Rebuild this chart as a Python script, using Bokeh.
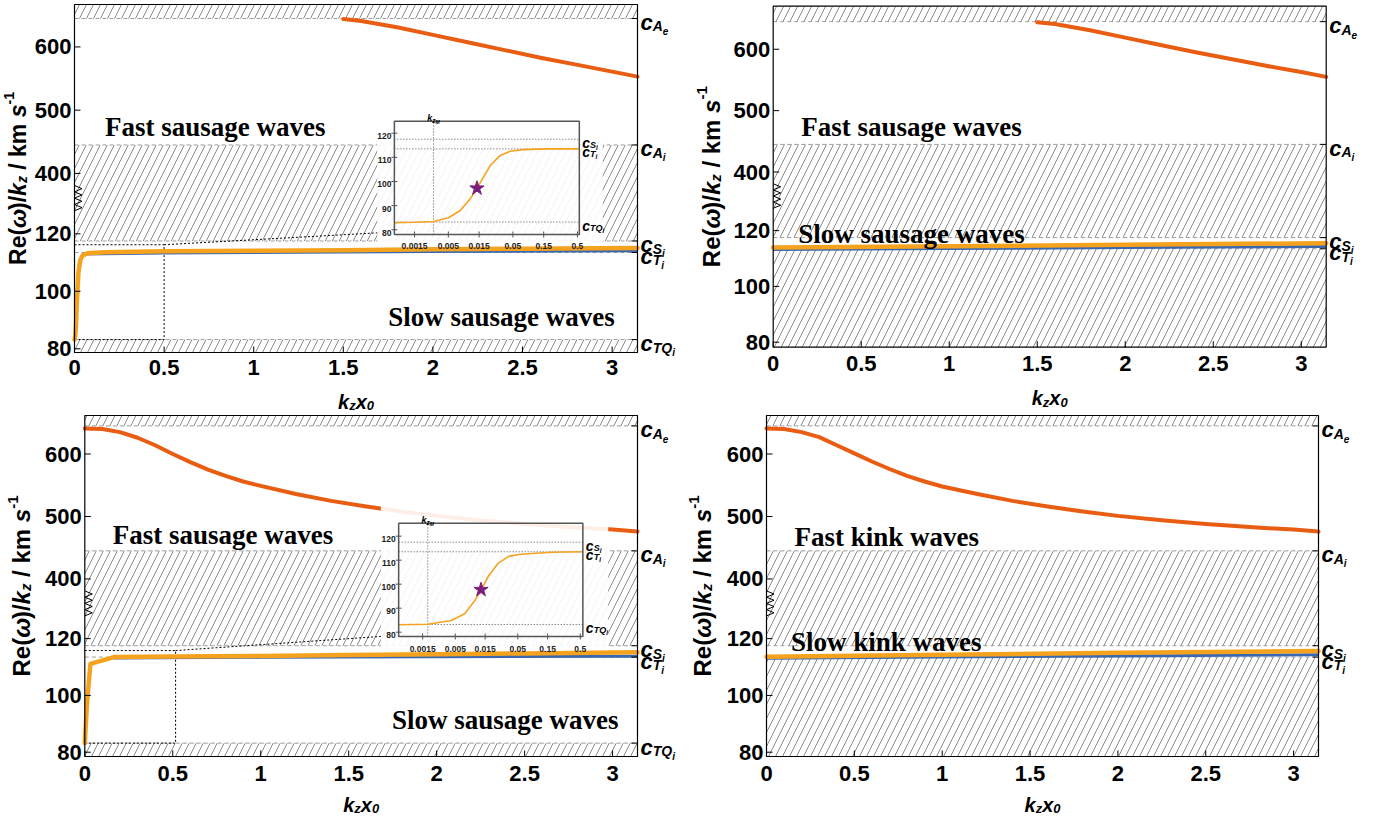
import math
import numpy as np
from bokeh.plotting import figure
from bokeh.models import Range1d, LogScale, Label
from bokeh.layouts import column, row
from bokeh.embed import file_html
from bokeh.resources import INLINE

PI = math.pi
SANS = "Liberation Sans"
SERIF = "Liberation Serif"

FAST_COLOR = "#E85D12"
SLOW_COLOR = "#F5A31F"
BLUE_COLOR = "#3A68B0"
HATCH_COLOR = "#8a8a8a"
DASH_COLOR = "#9c9c9c"
STAR_COLOR = "#7A1E7C"

# ---------------- data ----------------
# characteristic speeds (km/s)
C_AE, C_AI, C_SI, C_TI, C_TQI = 645.0, 445.0, 117.5, 113.5, 83.2

x_ticks = [0, 0.5, 1, 1.5, 2, 2.5, 3]
x_tick_labels = ["0", "0.5", "1", "1.5", "2", "2.5", "3"]
y_ticks = [80, 100, 120, 400, 500, 600]
y_tick_labels = ["80", "100", "120", "400", "500", "600"]

# panel (a): fast / slow sausage waves
a_fast_k = [1.50, 1.60, 1.80, 2.00, 2.20, 2.40, 2.60, 2.80, 3.00, PI]
a_fast_v = [644, 641, 631, 619, 607, 595, 583, 572, 561, 553]
a_slow_k = [0, 0.0015, 0.005, 0.008, 0.011, 0.014, 0.018, 0.022, 0.032, 0.045, 0.073, 0.17, 0.5, 1.0, 1.5, 2.0, 2.5, PI]
a_slow_v = [83.2, 83.3, 85.0, 88.0, 92.8, 97.2, 101.8, 106.6, 110.8, 112.5, 113.2, 113.6, 113.9, 114.1, 114.3, 114.6, 114.8, 115.1]
a_blue_k = [0.05, 0.5, 1.0, 2.0, PI]
a_blue_v = [113.0, 113.3, 113.5, 113.8, 114.1]
# inset of (a)
ia_k = [0.00073, 0.0015, 0.00295, 0.00503, 0.00764, 0.0109, 0.0139, 0.0175, 0.0223, 0.0318, 0.0454, 0.0729, 0.168, 0.519]
ia_v = [82.9, 83.1, 83.4, 85.0, 88.0, 92.8, 97.2, 101.8, 106.6, 110.8, 112.5, 113.2, 113.5, 113.5]
ia_star = (0.0139, 97.2)
ia_kzm = 0.00295

# panel (b): fast / slow sausage waves
b_fast_k = [1.50, 1.60, 1.80, 2.00, 2.20, 2.40, 2.60, 2.80, 3.00, PI]
b_fast_v = [644, 641, 631, 619, 607, 595, 584, 573, 563, 555]
b_slow_k = [0, 1.0, 2.0, PI]
b_slow_v = [113.9, 114.4, 114.9, 115.5]
b_blue_k = [0, 1.0, 2.0, PI]
b_blue_v = [113.2, 113.6, 113.9, 114.3]

# panel (c): fast / slow sausage waves
c_fast_k = [0, 0.1, 0.2, 0.3, 0.4, 0.5, 0.6, 0.7, 0.8, 0.9, 1.0, 1.2, 1.4, 1.6, 1.8, 2.0, 2.25, 2.5, 2.75, 3.0, PI]
c_fast_v = [641, 640, 635, 626, 614, 600, 587, 575, 565, 556, 549, 536, 525, 516, 508, 501, 494, 488, 483, 479, 476]
c_slow_k = [0, 0.0129, 0.032, 0.165, 0.5, 1.0, 1.5, 2.0, 2.5, PI]
c_slow_v = [83.2, 97.7, 111.1, 113.5, 113.7, 113.9, 114.2, 114.5, 114.8, 115.2]
c_blue_k = [0.165, 1.0, 2.0, PI]
c_blue_v = [113.2, 113.4, 113.6, 113.8]
# inset of (c)
ic_k = [0.00062, 0.00181, 0.00431, 0.00708, 0.01028, 0.0129, 0.01694, 0.0247, 0.0358, 0.052, 0.0966, 0.180, 0.55]
ic_v = [83.1, 83.3, 84.9, 87.7, 93.2, 97.6, 103.4, 108.9, 111.6, 112.4, 112.9, 113.3, 113.5]
ic_star = (0.0129, 97.7)
ic_kzm = 0.00181

# panel (d): fast / slow kink waves
d_fast_k = [0, 0.1, 0.2, 0.3, 0.4, 0.5, 0.6, 0.7, 0.8, 0.9, 1.0, 1.2, 1.4, 1.6, 1.8, 2.0, 2.25, 2.5, 2.75, 3.0, PI]
d_fast_v = [641, 640, 635, 627, 614, 601, 588, 576, 565, 556, 548, 536, 525, 516, 508, 501, 494, 488, 483, 479, 476]
d_slow_k = [0, 1.0, 2.0, PI]
d_slow_v = [113.6, 114.3, 115.0, 115.6]
d_blue_k = [0, 1.0, 2.0, PI]
d_blue_v = [113.1, 113.5, 113.9, 114.3]

inset_x_ticks = [0.0015, 0.005, 0.015, 0.05, 0.15, 0.5]
inset_x_labels = ["0.0015", "0.005", "0.015", "0.05", "0.15", "0.5"]
inset_y_ticks = [80, 90, 100, 110, 120]

# ---------------- broken y axis ----------------
LOW_MAX, HIGH_MIN, T_HIGH_MIN, HIGH_SCALE = 120.0, 400.0, 141.0, 0.22


def T(v):
    a = np.asarray(v, dtype=float)
    mid = LOW_MAX + (a - LOW_MAX) * (T_HIGH_MIN - LOW_MAX) / (HIGH_MIN - LOW_MAX)
    out = np.where(a <= LOW_MAX, a,
                   np.where(a >= HIGH_MIN, T_HIGH_MIN + (a - HIGH_MIN) * HIGH_SCALE, mid))
    if out.ndim == 0:
        return float(out)
    return out.tolist()


# ---------------- text helpers ----------------
W = {'c': 0.556, 'A': 0.722, 'S': 0.667, 'T': 0.611, 'Q': 0.778, 'i': 0.278, 'e': 0.556,
     'k': 0.556, 'z': 0.5, 'x': 0.556, '0': 0.556, 'M': 0.833, 'R': 0.722, '(': 0.333,
     ')': 0.333, '/': 0.278, ' ': 0.278, 'm': 0.889, 's': 0.556, '-': 0.333, '1': 0.556,
     'ω': 0.78}


def tw(s, size):
    return sum(W.get(ch, 0.556) for ch in s) * size


def pieces_label(p, x, y, pieces, x0=0.0, y0=0.0, center=False, angle=0.0, **kw):
    """Place a run of text pieces (text, size, shift-down px, style); blank pieces only advance."""
    total = sum(tw(t, s) for t, s, _, _ in pieces)
    pos = -total / 2 if center else 0.0
    for text, size, shift, style in pieces:
        if text.strip():
            if angle == 0:
                xo, yo = x0 + pos, y0 - shift
            else:
                xo, yo = x0 + shift, y0 + pos
            p.add_layout(Label(x=x, y=y, x_offset=xo, y_offset=yo, text=text, angle=angle,
                               text_font=SANS, text_font_size=f"{size}px", text_font_style=style,
                               text_align="left", text_baseline="alphabetic", text_color="black", **kw))
        pos += tw(text, size)


def speed_label(p, v, sub, subsub, x, big=(22, 14, 10), shifts=(4, 8, 13), x0=0, **kw):
    BI = "bold italic"
    pieces_label(p, x, v, [("c", big[0], shifts[0], BI), (sub, big[1], shifts[1], BI),
                           (subsub, big[2], shifts[2], BI)], x0=x0, **kw)


def tick_label(p, x, y, text, **kw):
    p.add_layout(Label(x=x, y=y, text=text, text_font=SANS, text_font_size="22px",
                       text_font_style="bold", text_color="black", **kw))


def build(spec):
    fw, fh = spec["size"]
    pl, pr, pt, pb = spec["panel"]
    yr0, yr1 = spec["yr"]
    xpp = PI / (pr - pl)
    tpp = (yr1 - yr0) / (pb - pt)
    xr = (-pl * xpp, PI + (fw - pr) * xpp)
    yrr = (yr0 - (fh - pb) * tpp, yr1 + pt * tpp)
    p = figure(width=fw, height=fh, x_range=Range1d(*xr), y_range=Range1d(*yrr),
               x_axis_type=None, y_axis_type=None, output_backend="svg", toolbar_location=None,
               min_border=0, min_border_left=0, min_border_right=0, min_border_top=0,
               min_border_bottom=0)
    p.xgrid.visible = False
    p.ygrid.visible = False
    p.outline_line_color = None
    p.background_fill_color = "white"
    p.border_fill_color = "white"

    speeds = spec["speeds"]
    sv = T([s[0] for s in speeds])

    # hatched (forbidden) bands
    bands = spec["bands"]
    p.quad(left=[0] * len(bands), right=[PI] * len(bands),
           bottom=[T(b[0]) if b[0] is not None else yr0 for b in bands],
           top=[T(b[1]) if b[1] is not None else yr1 for b in bands],
           fill_color=None, line_color=None, hatch_pattern="/", hatch_color=HATCH_COLOR,
           hatch_weight=1, hatch_scale=14)
    p.segment(x0=[0] * len(sv), x1=[PI] * len(sv), y0=sv, y1=sv,
              line_color=DASH_COLOR, line_width=1, line_dash="4 3")

    # axis-break zigzag on the left frame edge
    zz_t = np.linspace(128.0, 136.8, 9)
    zz_x = [0.0 if i % 2 == 0 else 7.5 * xpp for i in range(9)]
    p.line(zz_x, zz_t.tolist(), line_color="black", line_width=1)

    ins = spec.get("inset")
    if ins:
        r = ins["rect"]
        p.line([0, r[0], r[0], 0], [T(r[2]), T(r[2]), T(r[1]), T(r[1])],
               line_color="black", line_width=1, line_dash="2 2")
        p.line([r[0], ins["diag_end"][0]], [T(r[2]), ins["diag_end"][1]],
               line_color="black", line_width=1, line_dash="2 2")

    # curves
    p.line(spec["blue"][0], T(spec["blue"][1]), line_color=BLUE_COLOR, line_width=3)
    p.line(spec["slow"][0], T(spec["slow"][1]), line_color=SLOW_COLOR, line_width=4.5,
           line_join="round", line_cap="round")
    p.line(spec["fast"][0], T(spec["fast"][1]), line_color=FAST_COLOR, line_width=4,
           line_join="round", line_cap="round")

    if ins:
        wb = ins["white"]
        p.quad(left=[wb[0]], right=[wb[1]], bottom=[wb[2]], top=[wb[3]],
               fill_color="white", fill_alpha=0.9, line_color=None)
        bx0, bx1, by0, by1 = ins["box"]
        ixr, iyr = ins["xr"], ins["yr"]
        lx0, lx1 = math.log10(ixr[0]), math.log10(ixr[1])

        def fx(m):
            return 10 ** (lx0 + (m - bx0) * (lx1 - lx0) / (bx1 - bx0))

        def fy(m):
            return iyr[0] + (m - by0) * (iyr[1] - iyr[0]) / (by1 - by0)

        p.extra_x_ranges = {"ix": Range1d(fx(xr[0]), fx(xr[1]))}
        p.extra_x_scales = {"ix": LogScale()}
        p.extra_y_ranges = {"iy": Range1d(fy(yrr[0]), fy(yrr[1]))}
        IX = dict(x_range_name="ix", y_range_name="iy")
        gl = [C_SI, C_TI, C_TQI]
        p.segment(x0=[ixr[0]] * 3, x1=[ixr[1]] * 3, y0=gl, y1=gl,
                  line_color="#555555", line_width=1, line_dash="1 2", **IX)
        p.segment(x0=[ins["kzm"]], x1=[ins["kzm"]], y0=[iyr[0]], y1=[iyr[1]],
                  line_color="#555555", line_width=1, line_dash="1 2", **IX)
        p.line(ins["k"], ins["v"], line_color=SLOW_COLOR, line_width=1.6, **IX)
        p.scatter([ins["star"][0]], [ins["star"][1]], marker="star", size=15,
                  fill_color=STAR_COLOR, line_color=STAR_COLOR, **IX)
        p.quad(left=[ixr[0]], right=[ixr[1]], bottom=[iyr[0]], top=[iyr[1]],
               fill_color=None, line_color="#555555", line_width=1.5, **IX)
        p.scatter(inset_x_ticks, [iyr[0]] * len(inset_x_ticks), marker="dash", angle=PI / 2,
                  size=6, line_color="#555555", **IX)
        p.scatter([ixr[0]] * len(inset_y_ticks), inset_y_ticks, marker="dash",
                  size=6, line_color="#555555", **IX)
        for t, lab in zip(inset_x_ticks, inset_x_labels):
            p.add_layout(Label(x=t, y=iyr[0], y_offset=-12, text=lab, text_font=SANS,
                               text_font_size="8.5px", text_font_style="bold", text_align="center",
                               text_baseline="alphabetic", text_color="#222222", **IX))
        for t in inset_y_ticks:
            p.add_layout(Label(x=ixr[0], y=t, x_offset=-3, y_offset=-3, text=str(t), text_font=SANS,
                               text_font_size="8.5px", text_font_style="bold", text_align="right",
                               text_baseline="alphabetic", text_color="#222222", **IX))
        for v, sub in ((C_SI, "S"), (C_TI, "T"), (C_TQI, "TQ")):
            speed_label(p, v, sub, "i", x=ixr[1], big=(14, 9, 6.5), shifts=(3.5, 5.5, 8), x0=3, **IX)
        pieces_label(p, ins["kzm"], iyr[1], [("k", 9, 0, "bold italic"), ("z", 6.5, 2, "bold italic"),
                                              ("M", 5, 3.5, "bold italic")], y0=3, center=True, **IX)

    # frame and ticks (x: 0..pi, y: broken scale)
    p.quad(left=[0], right=[PI], bottom=[yr0], top=[yr1], fill_color=None,
           line_color="black", line_width=1.2)
    yt = T(y_ticks)
    p.segment(x0=x_ticks, x1=x_ticks, y0=[yr0] * len(x_ticks), y1=[yr0 + 6 * tpp] * len(x_ticks),
              line_color="black", line_width=1)
    p.segment(x0=[0] * len(yt), x1=[6 * xpp] * len(yt), y0=yt, y1=yt, line_color="black", line_width=1)
    p.segment(x0=[PI - 6 * xpp] * len(sv), x1=[PI] * len(sv), y0=sv, y1=sv,
              line_color="black", line_width=1)
    for t, lab in zip(x_ticks, x_tick_labels):
        tick_label(p, t, yr0, lab, y_offset=-spec["xtick_dy"], text_align="center", text_baseline="middle")
    for t, lab in zip(yt, y_tick_labels):
        tick_label(p, 0, t, lab, x_offset=-3, text_align="right", text_baseline="middle")

    # region labels
    for (x, v, txt) in spec["texts"]:
        p.add_layout(Label(x=x, y=T(v), text=txt, text_font=SERIF, text_font_size="27px",
                           text_font_style="bold", text_align="center", text_baseline="middle",
                           text_color="black"))

    # characteristic-speed labels at the right of the frame
    for v, sub, sb in speeds:
        speed_label(p, T(v), sub, sb, x=PI, x0=3)

    BI = "bold italic"
    # x-axis title
    pieces_label(p, PI / 2, yr0, [("k", 20, 0, BI), ("z", 13, 4, BI), ("x", 20, 0, BI),
                                  ("0", 13, 4, BI)], y0=-spec["xlab_dy"], center=True)
    # y-axis title (rotated)
    fs = spec["yfont"]
    ss = int(round(fs * 0.62))
    yl = [("Re(", fs, 0, "bold"), ("ω", fs, 0, BI), (")/", fs, 0, "bold"), ("k", fs, 0, BI),
          ("z", ss, 4, BI), (" ", fs, 0, "bold"), ("/ km", fs, 0, "bold"), (" ", fs, 0, "bold"),
          ("s", fs, 0, BI), ("-1", ss, -9, "bold")]
    tot = sum(tw(t, s) for t, s, _, _ in yl)
    pieces_label(p, 0, (yr0 + yr1) / 2, yl, x0=spec["ylab_dx"], y0=-tot / 2, angle=PI / 2)
    return p


SPEEDS_FULL = [(C_AE, "A", "e"), (C_AI, "A", "i"), (C_SI, "S", "i"), (C_TI, "T", "i"), (C_TQI, "TQ", "i")]
SPEEDS_4 = SPEEDS_FULL[:4]

spec_a = dict(size=(684, 412), panel=(74, 637, 4, 352), yr=(78.71, 199.76), speeds=SPEEDS_FULL,
              bands=[(C_AE, None), (C_SI, C_AI), (None, C_TQI)],
              fast=(a_fast_k, a_fast_v), slow=(a_slow_k, a_slow_v), blue=(a_blue_k, a_blue_v),
              texts=[(0.785, 473, "Fast sausage waves"), (2.383, 90.9, "Slow sausage waves")],
              xlab_dy=49, xtick_dy=15, ylab_dx=-57, yfont=23,
              inset=dict(box=(1.785, 2.817, 119.76, 159.17), xr=(0.00073, 0.535), yr=(78.05, 124.97),
                         white=(1.689, 2.948, 116.8, 163.6), rect=(0.5, C_TQI, 116.2),
                         diag_end=(1.696, 120.35), k=ia_k, v=ia_v, star=ia_star, kzm=ia_kzm))
spec_b = dict(size=(696, 412), panel=(88.7, 641.7, 5.7, 346.7), yr=(78.21, 200.43), speeds=SPEEDS_4,
              bands=[(C_AE, None), (C_SI, C_AI), (None, C_TI)],
              fast=(b_fast_k, b_fast_v), slow=(b_slow_k, b_slow_v), blue=(b_blue_k, b_blue_v),
              texts=[(0.786, 473, "Fast sausage waves"), (0.786, 118.9, "Slow sausage waves")],
              xlab_dy=51, xtick_dy=16, ylab_dx=-62, yfont=24)
spec_c = dict(size=(684, 404), panel=(84.3, 637, 3, 344), yr=(78.49, 198.56), speeds=SPEEDS_FULL,
              bands=[(C_AE, None), (C_SI, C_AI), (None, C_TQI)],
              fast=(c_fast_k, c_fast_v), slow=(c_slow_k, c_slow_v), blue=(c_blue_k, c_blue_v),
              texts=[(0.785, 470, "Fast sausage waves"), (2.39, 91.2, "Slow sausage waves")],
              xlab_dy=48, xtick_dy=16.5, ylab_dx=-63, yfont=24,
              inset=dict(box=(1.784, 2.831, 120.74, 160.63), xr=(0.00062, 0.55), yr=(78.2, 125.4),
                         white=(1.683, 2.975, 116.8, 168.6), rect=(0.516, C_TQI, 115.8),
                         diag_end=(1.703, 120.85), k=ic_k, v=ic_v, star=ic_star, kzm=ic_kzm))
spec_d = dict(size=(696, 404), panel=(82, 634, 3, 344), yr=(78.49, 198.56), speeds=SPEEDS_4,
              bands=[(C_AE, None), (C_SI, C_AI), (None, C_TI)],
              fast=(d_fast_k, d_fast_v), slow=(d_slow_k, d_slow_v), blue=(d_blue_k, d_blue_v),
              texts=[(0.684, 467, "Fast kink waves"), (0.682, 118.7, "Slow kink waves")],
              xlab_dy=48, xtick_dy=16.5, ylab_dx=-64, yfont=24)

layout = column(row(build(spec_a), build(spec_b)), row(build(spec_c), build(spec_d)))

with open("out.html", "w") as f:
    f.write(file_html(layout, INLINE))
